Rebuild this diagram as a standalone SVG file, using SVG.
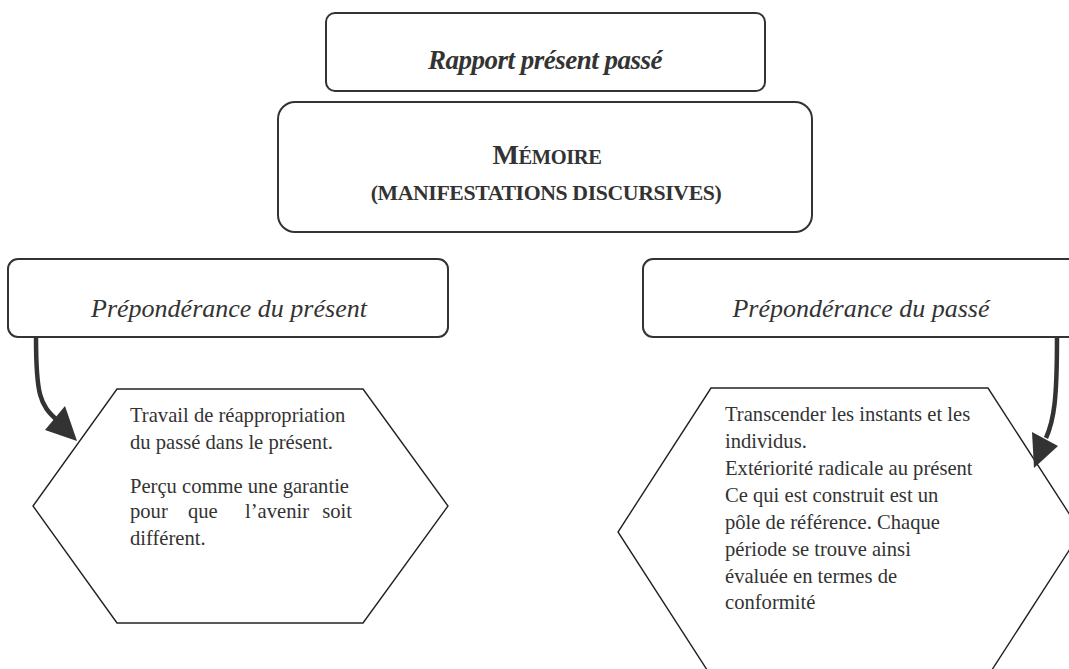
<svg xmlns="http://www.w3.org/2000/svg" width="1069" height="669" viewBox="0 0 1069 669">
<style>
.box{fill:#fff;stroke:#333;stroke-width:2}
.hex{fill:#fff;stroke:#222;stroke-width:1.4}
.t{font-family:"Liberation Serif","Times New Roman",serif;fill:#333}
.title{font-size:27px;font-weight:bold;font-style:italic;letter-spacing:-0.5px}
.caps{font-weight:bold}
.head{font-size:26px;font-style:italic}
.body{font-size:20.6px}
.conn{fill:none;stroke:#333;stroke-width:4.5}
.head-arrow{fill:#333}
</style>
<rect width="1069" height="669" fill="#fff"/>
<g id="rapport">
<rect class="box" x="326" y="13" width="439" height="78" rx="9"/>
<text class="t title" x="545" y="69" text-anchor="middle">Rapport présent passé</text>
</g>
<g id="memoire">
<rect class="box" x="278" y="102" width="534" height="130" rx="17"/>
<text class="t caps" x="547" y="164" text-anchor="middle" letter-spacing="-0.4"><tspan font-size="28">M</tspan><tspan font-size="20.5">ÉMOIRE</tspan></text>
<text class="t caps" x="546" y="200" text-anchor="middle" font-size="21.8" letter-spacing="-0.4">(MANIFESTATIONS DISCURSIVES)</text>
</g>
<g id="present">
<rect class="box" x="8" y="259" width="440" height="78" rx="10"/>
<text class="t head" x="229" y="317" text-anchor="middle">Prépondérance du présent</text>
</g>
<g id="passe">
<rect class="box" x="643" y="259" width="445" height="78" rx="10"/>
<text class="t head" x="861" y="317" text-anchor="middle">Prépondérance du passé</text>
</g>
<g id="hex-present">
<polygon class="hex" points="117,389 363,389 448,506 363,623 117,623 33,506"/>
<text class="t body" x="130" y="422">Travail de réappropriation</text>
<text class="t body" x="130" y="449">du passé dans le présent.</text>
<text class="t body" x="130" y="493">Perçu comme une garantie</text>
<text class="t body" y="518"><tspan x="130">pour</tspan><tspan x="188">que</tspan><tspan x="245">l’avenir</tspan><tspan x="352" text-anchor="end">soit</tspan></text>
<text class="t body" x="130" y="545">différent.</text>
</g>
<g id="hex-passe">
<polygon class="hex" points="711,388 988,388 1081,532 988,676 711,676 618,532"/>
<text class="t body" x="725" y="421">Transcender les instants et les</text>
<text class="t body" x="725" y="448">individus.</text>
<text class="t body" x="725" y="475">Extériorité radicale au présent</text>
<text class="t body" x="725" y="502">Ce qui est construit est un</text>
<text class="t body" x="725" y="529">pôle de référence. Chaque</text>
<text class="t body" x="725" y="556">période se trouve ainsi</text>
<text class="t body" x="725" y="583">évaluée en termes de</text>
<text class="t body" x="725" y="609">conformité</text>
</g>
<g id="connectors">
<path class="conn" d="M36,337 C36,395 40,405 57,420"/>
<polygon class="head-arrow" points="45,430 65,406 77,441"/>
<path class="conn" d="M1057,337 C1057,400 1054,420 1046,438"/>
<polygon class="head-arrow" points="1032,432 1058,446 1034,468"/>
</g>
</svg>
